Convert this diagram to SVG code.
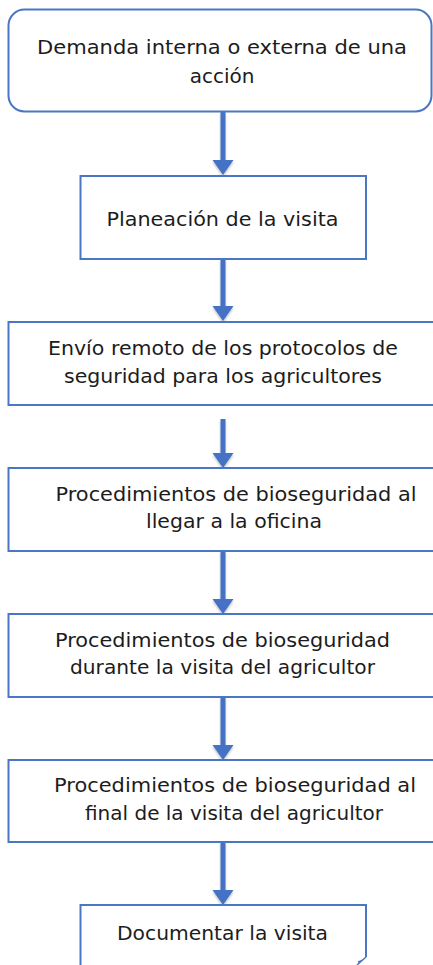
<svg xmlns="http://www.w3.org/2000/svg" width="433" height="965" viewBox="0 0 433 965">
<defs>
<style>
.box{fill:#ffffff;stroke:#4a76c4;stroke-width:2}
.t{font-family:"DejaVu Sans","Liberation Sans",sans-serif;font-size:20px;fill:#1c1c1c;text-anchor:middle}
.arr{fill:#4472c4}
</style>
<filter id="sh" x="-50%" y="-10%" width="200%" height="130%">
<feDropShadow dx="0" dy="2" stdDeviation="1.2" flood-color="#000" flood-opacity="0.25"/>
</filter>
</defs>
<rect width="433" height="965" fill="#ffffff"/>
<g id="connectors" filter="url(#sh)">
<path class="arr" d="M220.5,112 h5 v48 h8 l-10.5,15 l-10.5,-15 h8 z"/>
<path class="arr" d="M220.5,259 h5 v47 h8 l-10.5,15 l-10.5,-15 h8 z"/>
<path class="arr" d="M220.5,419 h5 v34 h8 l-10.5,15 l-10.5,-15 h8 z"/>
<path class="arr" d="M220.5,551 h5 v48 h8 l-10.5,15 l-10.5,-15 h8 z"/>
<path class="arr" d="M220.5,697 h5 v48 h8 l-10.5,15 l-10.5,-15 h8 z"/>
<path class="arr" d="M220.5,842 h5 v48 h8 l-10.5,15 l-10.5,-15 h8 z"/>
</g>
<g id="n1">
<rect class="box" x="8.5" y="9.5" width="423" height="102" rx="16"/>
<text class="t" x="222" y="54" textLength="370" lengthAdjust="spacingAndGlyphs">Demanda interna o externa de una</text>
<text class="t" x="222" y="83">acción</text>
</g>
<g id="n2">
<rect class="box" x="80.5" y="176" width="285.5" height="83"/>
<text class="t" x="222.5" y="226" textLength="232" lengthAdjust="spacingAndGlyphs">Planeación de la visita</text>
</g>
<g id="n3">
<rect class="box" x="8.5" y="322" width="430" height="83"/>
<text class="t" x="223" y="355" textLength="350" lengthAdjust="spacingAndGlyphs">Envío remoto de los protocolos de</text>
<text class="t" x="223" y="383" textLength="318" lengthAdjust="spacingAndGlyphs">seguridad para los agricultores</text>
</g>
<g id="n4">
<rect class="box" x="8.5" y="468" width="430" height="83"/>
<text class="t" x="236" y="501" textLength="361" lengthAdjust="spacingAndGlyphs">Procedimientos de bioseguridad al</text>
<text class="t" x="234" y="528" textLength="176" lengthAdjust="spacingAndGlyphs">llegar a la oficina</text>
</g>
<g id="n5">
<rect class="box" x="8.5" y="614" width="430" height="83"/>
<text class="t" x="222.5" y="647" textLength="335" lengthAdjust="spacingAndGlyphs">Procedimientos de bioseguridad</text>
<text class="t" x="222.5" y="674" textLength="305" lengthAdjust="spacingAndGlyphs">durante la visita del agricultor</text>
</g>
<g id="n6">
<rect class="box" x="8.5" y="760" width="430" height="82"/>
<text class="t" x="235" y="792" textLength="362" lengthAdjust="spacingAndGlyphs">Procedimientos de bioseguridad al</text>
<text class="t" x="234" y="820" textLength="298" lengthAdjust="spacingAndGlyphs">final de la visita del agricultor</text>
</g>
<g id="n7">
<path class="box" d="M80.5,970 V905 H366 V957"/>
<path d="M366,957 L357,965 M358,962 q3,-1 6,-3" fill="none" stroke="#4a76c4" stroke-width="1.5"/>
<text class="t" x="222.5" y="940" textLength="211" lengthAdjust="spacingAndGlyphs">Documentar la visita</text>
</g>
</svg>
